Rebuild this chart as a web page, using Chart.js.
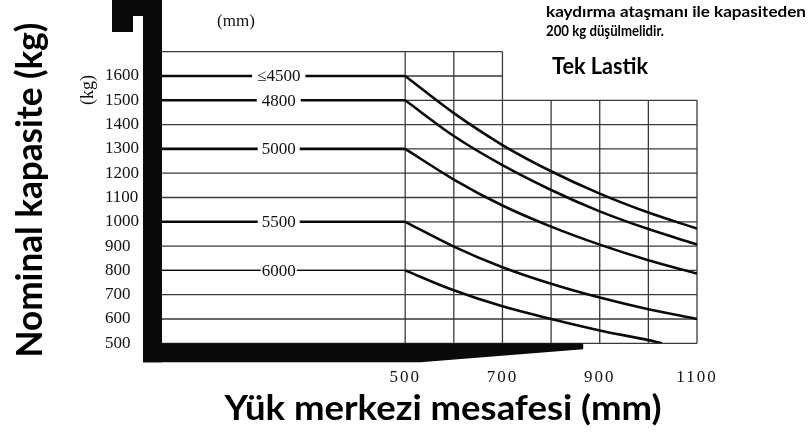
<!DOCTYPE html>
<html>
<head>
<meta charset="utf-8">
<script src="https://cdn.jsdelivr.net/npm/chart.js@4"></script>
<style>
  html, body { margin: 0; padding: 0; background: #fff; }
  #wrap { width: 811px; height: 437px; }
</style>
</head>
<body>
<div id="wrap"><canvas id="capChart" width="811" height="437"></canvas></div>
<script>
// Mast heights and load-centre / capacity readings (mm, kg)
const mastLabels = ['≤4500', '4800', '5000', '5500', '6000'];
const loadCenters = [0, 500, 600, 700, 800, 900, 1000, 1100];
const loadCenters6000 = [0, 500, 600, 700, 800, 900, 1000, 1028];
const cap4500 = [1600, 1600, 1447, 1316, 1208, 1116, 1038, 972];
const cap4800 = [1500, 1500, 1353, 1233, 1131, 1043, 970, 907];
const cap5000 = [1300, 1300, 1174, 1067, 980, 906, 842, 787];
const cap5500 = [1000, 1000, 898, 813, 745, 688, 640, 600];
const cap6000 = [800, 800, 718, 652, 600, 553, 513, 500];

const xTickValues = [500, 700, 900, 1100];
const yTickValues = [500, 600, 700, 800, 900, 1000, 1100, 1200, 1300, 1400, 1500, 1600];

const seriesX = [loadCenters, loadCenters, loadCenters, loadCenters, loadCenters6000];
const seriesY = [cap4500, cap4800, cap5000, cap5500, cap6000];
const flatWidths = [2.6, 2.6, 2.6, 2.6, 1.3];
const labelGaps = [5, 5, 4, 4, 1];
const LABEL_X = 240;

function toPoints(xs, ys) {
  return xs.map((x, i) => ({ x: x, y: ys[i] }));
}

const datasets = [];
seriesY.forEach((ys, i) => {
  const pts = toPoints(seriesX[i], ys);
  // flat part up to 500 mm
  datasets.push({
    data: pts.slice(0, 2), borderColor: '#0a0a0a', borderWidth: flatWidths[i],
    pointRadius: 0, tension: 0
  });
  // falling part
  datasets.push({
    data: pts.slice(1), borderColor: '#0a0a0a', borderWidth: 2.6,
    pointRadius: 0, cubicInterpolationMode: 'monotone'
  });
});

function drawFitted(ctx, text, x, y, width, align) {
  const w = ctx.measureText(text).width;
  ctx.save();
  ctx.translate(x, y);
  ctx.scale(width / w, 1);
  ctx.textAlign = align;
  ctx.fillText(text, 0, 0);
  ctx.restore();
}

const decorPlugin = {
  id: 'decor',
  beforeDatasetsDraw(chart) {
    const { ctx, chartArea: a, scales: { x, y } } = chart;
    ctx.save();
    // irregular grid
    ctx.strokeStyle = '#3a3a3a';
    ctx.lineWidth = 1.3;
    ctx.beginPath();
    for (let v = 500; v <= 1700; v += 100) {
      const yy = y.getPixelForValue(v);
      const xEnd = v > 1500 ? 700 : 1100;
      ctx.moveTo(x.getPixelForValue(0), yy);
      ctx.lineTo(x.getPixelForValue(xEnd), yy);
    }
    for (let v = 500; v <= 1100; v += 100) {
      const xx = x.getPixelForValue(v);
      const yTop = v <= 700 ? 1700 : 1500;
      ctx.moveTo(xx, y.getPixelForValue(500));
      ctx.lineTo(xx, y.getPixelForValue(yTop));
    }
    ctx.stroke();

    // fork silhouette
    const L = a.left, B = a.bottom;
    ctx.fillStyle = '#0a0a0a';
    ctx.fillRect(L - 19, 0, 19, B + 19);
    ctx.fillRect(L - 50, 0, 50, 16);
    ctx.fillRect(L - 50, 16, 21, 16);
    const heel = x.getPixelForValue(531), tip = x.getPixelForValue(866);
    ctx.beginPath();
    ctx.moveTo(L - 19, B);
    ctx.lineTo(tip, B);
    ctx.lineTo(tip, B + 6);
    ctx.lineTo(heel, B + 19);
    ctx.lineTo(L - 19, B + 19);
    ctx.closePath();
    ctx.fill();
    ctx.restore();
  },
  afterDatasetsDraw(chart) {
    const { ctx, scales: { x, y } } = chart;
    ctx.save();
    ctx.font = '17px "Liberation Serif"';
    ctx.textAlign = 'center';
    ctx.textBaseline = 'middle';
    mastLabels.forEach((lab, i) => {
      const px = x.getPixelForValue(LABEL_X);
      const py = y.getPixelForValue(seriesY[i][0]);
      const w = ctx.measureText(lab).width + labelGaps[i] * 2;
      ctx.fillStyle = '#fff';
      ctx.fillRect(px - w / 2, py - 3, w, 6);
      ctx.fillStyle = '#111';
      ctx.fillText(lab, px, py + 1);
    });
    ctx.restore();
    // spaced digits for the x tick labels drawn next
    ctx.letterSpacing = '2px';
  },
  afterDraw(chart) {
    const ctx = chart.ctx;
    ctx.letterSpacing = '0px';
    ctx.save();
    ctx.fillStyle = '#111';
    ctx.textBaseline = 'middle';
    ctx.textAlign = 'center';
    ctx.font = '17px "Liberation Serif"';
    ctx.fillText('(mm)', 236, 22);
    ctx.save();
    ctx.translate(88, 90);
    ctx.rotate(-Math.PI / 2);
    ctx.font = '18px "Liberation Serif"';
    ctx.fillText('(kg)', 0, 0);
    ctx.restore();

    ctx.fillStyle = '#000';
    ctx.textBaseline = 'alphabetic';
    ctx.font = 'bold 36px Lato';
    ctx.save();
    ctx.translate(42, 190);
    ctx.rotate(-Math.PI / 2);
    drawFitted(ctx, 'Nominal kapasite (kg)', 0, 0, 335, 'center');
    ctx.restore();

    ctx.font = 'bold 34px Lato';
    drawFitted(ctx, 'Yük merkezi mesafesi (mm)', 443, 420, 437, 'center');

    ctx.font = 'bold 16px Lato';
    drawFitted(ctx, 'kaydırma ataşmanı ile kapasiteden', 546, 17, 260, 'left');
    drawFitted(ctx, '200 kg düşülmelidir.', 546, 36, 118, 'left');
    ctx.font = 'bold 22px Lato';
    drawFitted(ctx, 'Tek Lastik', 552, 74, 96, 'left');
    ctx.restore();
  }
};

new Chart(document.getElementById('capChart').getContext('2d'), {
  type: 'line',
  data: { datasets: datasets },
  options: {
    responsive: false,
    animation: false,
    events: [],
    layout: { padding: { left: 105, right: 114, top: 51.7, bottom: 0 } },
    plugins: { legend: { display: false }, tooltip: { enabled: false } },
    scales: {
      x: {
        type: 'linear', min: 0, max: 1100,
        grid: { display: false, drawTicks: false },
        border: { display: false },
        afterBuildTicks: s => { s.ticks = xTickValues.map(v => ({ value: v })); },
        afterFit: s => { s.height = 93.7; },
        ticks: {
          z: 1, padding: 24, maxRotation: 0, autoSkip: false, color: '#111',
          font: { family: 'Liberation Serif', size: 17 },
          callback: v => String(v)
        }
      },
      y: {
        type: 'linear', min: 500, max: 1700,
        grid: { display: false, drawTicks: false },
        border: { display: false },
        afterBuildTicks: s => { s.ticks = yTickValues.map(v => ({ value: v })); },
        afterFit: s => { s.width = 57; },
        ticks: {
          crossAlign: 'far', padding: 0, autoSkip: false, color: '#111',
          font: { family: 'Liberation Serif', size: 17 },
          callback: v => String(v)
        }
      }
    }
  },
  plugins: [decorPlugin]
});
</script>
</body>
</html>
